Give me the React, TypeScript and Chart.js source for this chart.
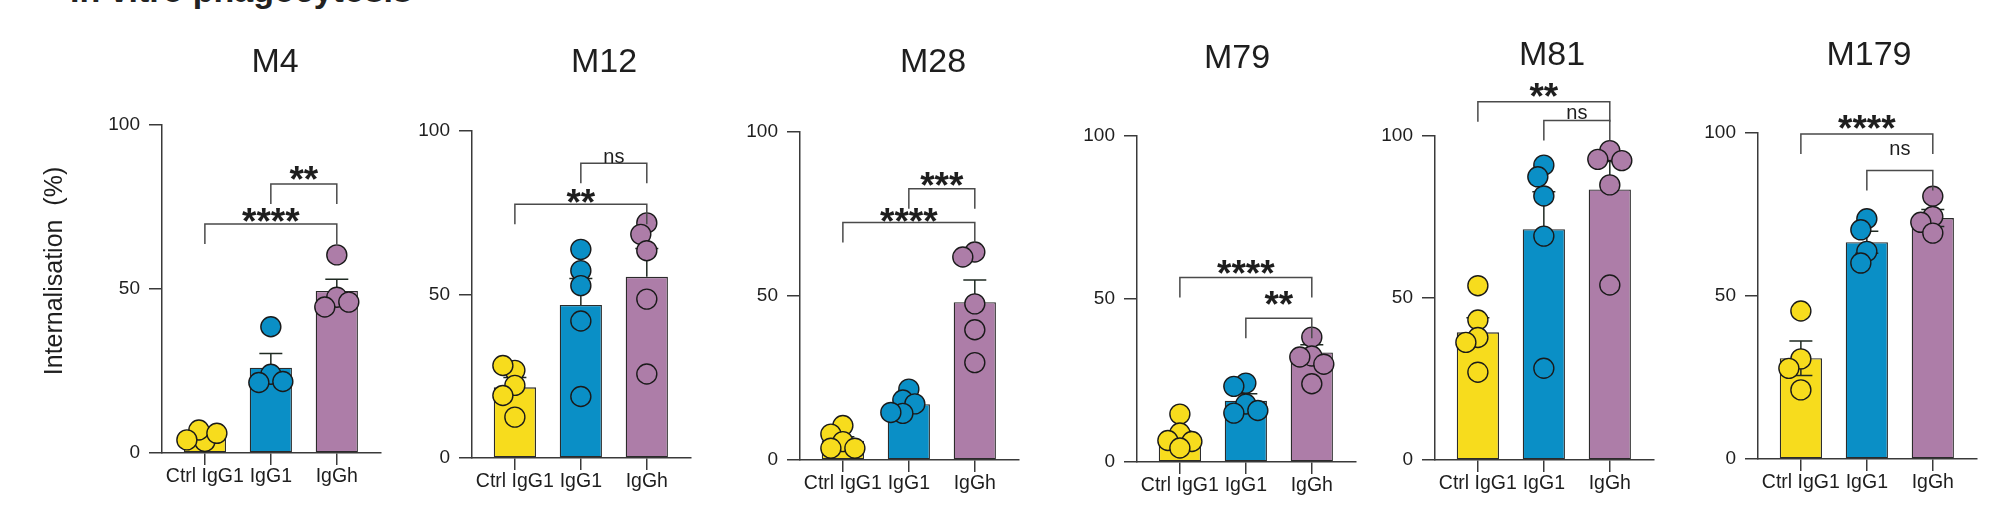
import React, { useEffect, useRef } from 'react';
import { Chart, registerables } from 'chart.js';

Chart.register(...registerables);

const panelNames = ['M4', 'M12', 'M28', 'M79', 'M81', 'M179'];
const categories = ['Ctrl IgG1', 'IgG1', 'IgGh'];
const yTicks = [0, 50, 100];

// bar heights (mean) and SEM
const meanValues = [
  [4.3, 26, 49.4],
  [21.6, 46.8, 55.4],
  [5.9, 17, 48.1],
  [7.7, 18.8, 33.6],
  [39.4, 71.2, 83.5],
  [30.9, 66.5, 73.9],
];
const semValues = [
  [0.8, 4.3, 3.6],
  [3.0, 8.1, 8.7],
  [1.2, 1.4, 6.8],
  [1.8, 2.1, 2.4],
  [4.5, 11.6, 8.6],
  [5.3, 3.4, 2.6],
];

// individual donors
const ctrlPoints = [
  [3.5, 7, 6, 4],
  [26.8, 28.3, 22.2, 19.1, 12.5],
  [10.5, 7.9, 5.6, 3.6, 3.6],
  [14.7, 8.9, 6.6, 6.3, 4.3],
  [53.8, 43.2, 37.8, 36.3, 27.1],
  [45.4, 30.7, 27.8, 21.2],
];
const igg1Points = [
  [38.5, 24, 21.5, 21.8],
  [63.8, 57.3, 52.7, 41.9, 18.8],
  [21.6, 18.3, 17.1, 14.2, 14.5],
  [24.2, 23.2, 17.8, 15, 15.8],
  [91, 87.4, 81.5, 69.1, 28.3],
  [73.7, 70.3, 63.7, 60.1],
];
const igghPoints = [
  [60.4, 47.5, 44.5, 46],
  [71.9, 68.4, 63.4, 48.6, 25.7],
  [63.4, 61.9, 47.6, 39.7, 29.7],
  [38.3, 32.5, 32.2, 30, 24],
  [95.5, 92.8, 92.4, 84.9, 54],
  [80.6, 74.4, 72.6, 69.3],
];

// significance brackets: Ctrl vs IgGh, IgG1 vs IgGh
const comparisons = [[0, 2], [1, 2]];
const bracketLabels = [
  ['****', '**'],
  ['**', 'ns'],
  ['****', '***'],
  ['****', '**'],
  ['**', 'ns'],
  ['****', 'ns'],
];
const bracketLevels = [
  [69.8, 82],
  [77.6, 90.1],
  [72.4, 82.7],
  [56.6, 44.1],
  [110.6, 104.8],
  [99.7, 88.5],
];
const twoSidedErrors = [false, false, false, false, false, true];

const colors = ['#F7DC1D', '#0A8FC6', '#AD7DA8'];
const ink = '#1e1e1e';
const axisColor = '#3a3a3a';
const FONT = '"Liberation Sans", Arial, Helvetica, sans-serif';

// page placement of each panel (px)
const frames = [
  { left: 0, axisX: 162, top: 125, zero: 453, titleX: 275, titleY: 60 },
  { left: 362, axisX: 472, top: 131, zero: 458, titleX: 604, titleY: 60 },
  { left: 690, axisX: 800, top: 132, zero: 460, titleX: 933, titleY: 60 },
  { left: 1027, axisX: 1137, top: 136, zero: 462, titleX: 1237, titleY: 56 },
  { left: 1325, axisX: 1435, top: 136, zero: 460, titleX: 1552, titleY: 53 },
  { left: 1648, axisX: 1758, top: 133, zero: 459, titleX: 1869, titleY: 53 },
];
// how far (px) each bracket label sits above its bracket
const labelLift = [
  [9, 11],
  [8, 6],
  [8, 10],
  [10, 20],
  [12, 7],
  [12, 21],
];
const PLOT_W = 219;
const PAD_R = 12;
const X_MIN = -0.65;
const X_MAX = 2.67;
const H = 516;

function centerText(ctx: CanvasRenderingContext2D, text: string, x: number, cy: number) {
  const m = ctx.measureText(text);
  ctx.textAlign = 'center';
  ctx.textBaseline = 'alphabetic';
  ctx.fillText(text, x, cy + (m.actualBoundingBoxAscent - m.actualBoundingBoxDescent) / 2);
}

// simple beeswarm so overlapping dots spread sideways
function swarm(values: number[], pxY: number, pxX: number) {
  const placed: { px: number; py: number }[] = [];
  const steps = [0, -1, 1, -2, 2, -3, 3, -4, 4];
  return values.map((v) => {
    const py = v * pxY;
    let px = 0;
    for (const s of steps) {
      const cand = s * 6;
      if (placed.every((p) => Math.hypot(p.px - cand, p.py - py) >= 12)) { px = cand; break; }
    }
    placed.push({ px, py });
    return px / pxX;
  });
}

function Panel({ p }: { p: number }) {
  const ref = useRef<HTMLCanvasElement>(null);
  const f = frames[p];
  const width = f.axisX - f.left + PLOT_W + PAD_R;

  useEffect(() => {
    if (!ref.current) return;
    const pxY = (f.zero - f.top) / 100;
    const pxX = PLOT_W / (X_MAX - X_MIN);
    const groups = [ctrlPoints[p], igg1Points[p], igghPoints[p]];
    const dots: { x: number; y: number }[] = [];
    const dotColors: string[] = [];
    groups.forEach((vals, i) => {
      const offs = swarm(vals, pxY, pxX);
      vals.forEach((v, k) => { dots.push({ x: i + offs[k], y: v }); dotColors.push(colors[i]); });
    });

    const overlay = {
      id: 'overlay',
      afterDatasetDraw(chart: any, args: any) {
        if (args.index !== 0) return;
        const { ctx, scales } = chart;
        ctx.save();
        ctx.strokeStyle = '#1f2a22';
        ctx.lineWidth = 1.5;
        meanValues[p].forEach((m, i) => {
          const x = scales.x.getPixelForValue(i);
          const yHi = scales.y.getPixelForValue(m + semValues[p][i]);
          const yLo = twoSidedErrors[p] ? scales.y.getPixelForValue(m - semValues[p][i]) : scales.y.getPixelForValue(m);
          ctx.beginPath();
          ctx.moveTo(x, yLo); ctx.lineTo(x, yHi);
          ctx.moveTo(x - 11.5, yHi); ctx.lineTo(x + 11.5, yHi);
          if (twoSidedErrors[p]) { ctx.moveTo(x - 11.5, yLo); ctx.lineTo(x + 11.5, yLo); }
          ctx.stroke();
        });
        ctx.restore();
      },
      afterDraw(chart: any) {
        const { ctx, scales } = chart;
        ctx.save();
        // brackets
        comparisons.forEach(([a, b], j) => {
          const x1 = scales.x.getPixelForValue(a);
          const x2 = scales.x.getPixelForValue(b);
          const y = scales.y.getPixelForValue(bracketLevels[p][j]);
          ctx.strokeStyle = '#4a4a4a';
          ctx.lineWidth = 1.5;
          ctx.beginPath();
          ctx.moveTo(x1, y + 20); ctx.lineTo(x1, y); ctx.lineTo(x2, y); ctx.lineTo(x2, y + 20);
          ctx.stroke();
          const label = bracketLabels[p][j];
          ctx.fillStyle = ink;
          ctx.font = label === 'ns' ? `20px ${FONT}` : `bold 37px ${FONT}`;
          centerText(ctx, label, (x1 + x2) / 2, y - labelLift[p][j]);
        });
        // panel title
        ctx.fillStyle = ink;
        ctx.font = `34px ${FONT}`;
        centerText(ctx, panelNames[p], f.titleX - f.left, f.titleY);
        if (p === 0) {
          ctx.translate(55, 271);
          ctx.rotate(-Math.PI / 2);
          ctx.font = `25px ${FONT}`;
          centerText(ctx, 'Internalisation  (%)', 0, 0);
        }
        ctx.restore();
      },
    };

    const chart = new Chart(ref.current, {
      type: 'bar',
      data: {
        datasets: [
          {
            type: 'bar',
            data: meanValues[p].map((m, i) => ({ x: i, y: m })),
            backgroundColor: colors,
            borderColor: '#2b2b2b',
            borderWidth: 1.3,
            borderSkipped: false,
            barPercentage: 0.64,
            categoryPercentage: 1,
            order: 2,
          } as any,
          {
            type: 'scatter',
            data: dots,
            pointRadius: 10,
            pointBackgroundColor: dotColors,
            pointBorderColor: '#1a1a1a',
            pointBorderWidth: 1.4,
            clip: false,
            order: 1,
          } as any,
        ],
      },
      options: {
        responsive: false,
        animation: false,
        layout: { padding: { top: f.top, right: PAD_R, left: 0, bottom: 0 } },
        plugins: { legend: { display: false }, tooltip: { enabled: false } },
        scales: {
          x: {
            type: 'linear',
            offset: false,
            min: X_MIN,
            max: X_MAX,
            afterBuildTicks: (s: any) => { s.ticks = [0, 1, 2].map((v) => ({ value: v })); },
            afterFit: (s: any) => { s.height = H - f.zero; },
            grid: { display: true, offset: false, drawOnChartArea: false, drawTicks: true, tickLength: 12, color: axisColor, lineWidth: 1.5 },
            border: { display: true, color: axisColor, width: 1.5 },
            ticks: {
              autoSkip: false,
              maxRotation: 0,
              minRotation: 0,
              padding: 0,
              color: ink,
              font: { family: FONT, size: 19.5 },
              callback: (v: any) => categories[v] ?? '',
            },
          },
          y: {
            type: 'linear',
            min: 0,
            max: 100,
            afterBuildTicks: (s: any) => { s.ticks = yTicks.map((v) => ({ value: v })); },
            afterFit: (s: any) => { s.width = f.axisX - f.left; },
            grid: { display: true, drawOnChartArea: false, drawTicks: true, tickLength: 13, color: axisColor, lineWidth: 1.5 },
            border: { display: true, color: axisColor, width: 1.5 },
            ticks: { padding: 9, color: ink, font: { family: FONT, size: 19 } },
          },
        },
      } as any,
      plugins: [overlay],
    });
    return () => chart.destroy();
  }, [p]);

  return (
    <canvas
      ref={ref}
      width={width}
      height={H}
      style={{ position: 'absolute', left: f.left, top: 0, width, height: H }}
    />
  );
}

export default function App() {
  return (
    <div style={{ position: 'absolute', left: 0, top: 0, width: 1994, height: H, background: '#fff', overflow: 'hidden' }}>
      <div style={{ position: 'absolute', left: 70, top: -27, font: `bold 34px ${FONT}`, lineHeight: '34px', color: '#222', whiteSpace: 'nowrap' }}>
        In vitro phagocytosis
      </div>
      {panelNames.map((_, p) => <Panel key={p} p={p} />)}
    </div>
  );
}
